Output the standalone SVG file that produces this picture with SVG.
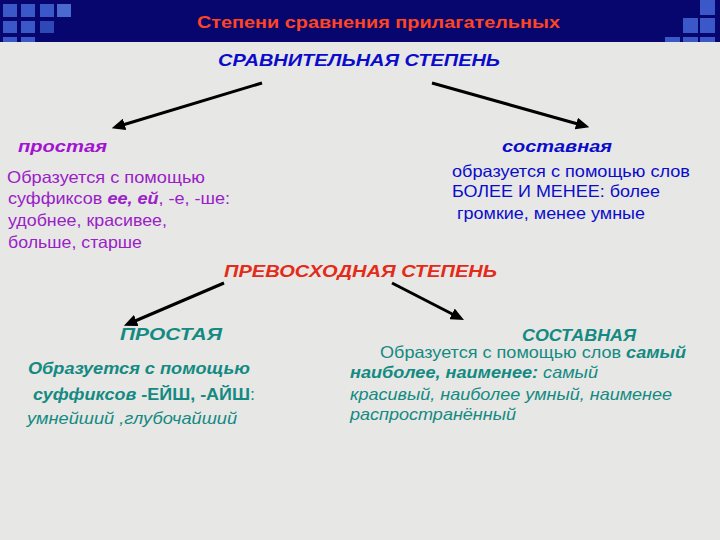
<svg xmlns="http://www.w3.org/2000/svg" width="720" height="540" viewBox="0 0 720 540">
<style>
text{font-family:"Liberation Sans",Arial,sans-serif;font-size:16.5px}
.ttl{font-size:17px;font-weight:bold;fill:#ff4422}
.blue{fill:#0b0bcc}
.purp{fill:#9a20c8}
.red{fill:#e42a18}
.teal{fill:#138a82}
.bi{font-weight:bold;font-style:italic}
.b{font-weight:bold}
.i{font-style:italic}
.sq{fill:#3a58c8}
.arrow{stroke:#000;stroke-width:3;fill:none;marker-end:url(#ah)}
</style>
<defs>
<marker id="ah" markerWidth="4.5" markerHeight="4" refX="3" refY="2" orient="auto" markerUnits="strokeWidth">
<path d="M0,0 L4.5,2 L0,4 z" fill="#000"/>
</marker>
</defs>
<rect x="0" y="0" width="720" height="540" fill="#e7e7e5"/>
<g id="header">
<rect x="0" y="0" width="720" height="42" fill="#06066e"/>
<rect class="sq" x="3" y="4" width="14" height="13"/>
<rect class="sq" x="21" y="4" width="14" height="13"/>
<rect class="sq" x="40" y="4" width="14" height="13"/>
<rect x="57" y="4" width="14" height="13" fill="#4a6ad0"/>
<rect class="sq" x="3" y="21" width="14" height="12"/>
<rect class="sq" x="21" y="21" width="14" height="12"/>
<rect x="40" y="21" width="14" height="12" fill="#2e48b8"/>
<rect class="sq" x="3" y="37" width="14" height="5"/>
<rect class="sq" x="21" y="37" width="14" height="5"/>
<rect class="sq" x="700" y="0" width="15" height="15"/>
<rect class="sq" x="683" y="18" width="15" height="15"/>
<rect class="sq" x="700" y="18" width="15" height="15"/>
<rect class="sq" x="665" y="37" width="15" height="5"/>
<rect class="sq" x="683" y="37" width="15" height="5"/>
<rect class="sq" x="700" y="37" width="15" height="5"/>
<text class="ttl" x="197" y="28" textLength="363" lengthAdjust="spacingAndGlyphs">Степени сравнения прилагательных</text>
</g>
<g id="connectors">
<line class="arrow" x1="262" y1="83" x2="116" y2="127"/>
<line class="arrow" x1="432" y1="83" x2="585" y2="126"/>
<line class="arrow" x1="224" y1="283" x2="128" y2="324"/>
<line class="arrow" x1="392" y1="283" x2="460" y2="318"/>
</g>
<g id="comparative">
<text class="blue bi" x="218" y="66" font-size="17" textLength="282" lengthAdjust="spacingAndGlyphs">СРАВНИТЕЛЬНАЯ СТЕПЕНЬ</text>
</g>
<g id="comp-simple">
<text class="bi" x="18" y="152" fill="#a412d2" textLength="89" lengthAdjust="spacingAndGlyphs">простая</text>
<text class="purp" x="7" y="183" textLength="198" lengthAdjust="spacingAndGlyphs">Образуется с помощью</text>
<text class="purp" x="8" y="204" textLength="222" lengthAdjust="spacingAndGlyphs">суффиксов <tspan class="bi">ее, ей</tspan>, -е, -ше:</text>
<text class="purp" x="8" y="226" textLength="159" lengthAdjust="spacingAndGlyphs">удобнее, красивее,</text>
<text class="purp" x="8" y="248" textLength="134" lengthAdjust="spacingAndGlyphs">больше, старше</text>
</g>
<g id="comp-compound">
<text class="blue bi" x="502" y="152" textLength="110" lengthAdjust="spacingAndGlyphs">составная</text>
<text class="blue" x="452" y="177" textLength="238" lengthAdjust="spacingAndGlyphs">образуется с помощью слов</text>
<text class="blue" x="452" y="197" textLength="208" lengthAdjust="spacingAndGlyphs">БОЛЕЕ И МЕНЕЕ: более</text>
<text class="blue" x="457" y="219" textLength="188" lengthAdjust="spacingAndGlyphs">громкие, менее умные</text>
</g>
<g id="superlative">
<text class="red bi" x="224" y="277" font-size="17" textLength="273" lengthAdjust="spacingAndGlyphs">ПРЕВОСХОДНАЯ СТЕПЕНЬ</text>
</g>
<g id="sup-simple">
<text class="teal bi" x="120" y="340" textLength="102" lengthAdjust="spacingAndGlyphs">ПРОСТАЯ</text>
<text class="teal bi" x="28" y="374" textLength="222" lengthAdjust="spacingAndGlyphs">Образуется с помощью</text>
<text class="teal" x="33" y="400" textLength="222" lengthAdjust="spacingAndGlyphs"><tspan class="bi">суффиксов </tspan><tspan class="b">-ЕЙШ, -АЙШ</tspan>:</text>
<text class="teal i" x="27" y="424" textLength="210" lengthAdjust="spacingAndGlyphs">умнейший ,глубочайший</text>
</g>
<g id="sup-compound">
<text class="teal bi" x="522" y="341" textLength="114" lengthAdjust="spacingAndGlyphs">СОСТАВНАЯ</text>
<text class="teal" x="380" y="358" textLength="306" lengthAdjust="spacingAndGlyphs">Образуется с помощью слов <tspan class="bi">самый</tspan></text>
<text class="teal" x="350" y="378" textLength="248" lengthAdjust="spacingAndGlyphs"><tspan class="bi">наиболее, наименее:</tspan><tspan class="i"> самый</tspan></text>
<text class="teal i" x="350" y="400" textLength="322" lengthAdjust="spacingAndGlyphs">красивый, наиболее умный, наименее</text>
<text class="teal i" x="350" y="420" textLength="166" lengthAdjust="spacingAndGlyphs">распространённый</text>
</g>
</svg>
